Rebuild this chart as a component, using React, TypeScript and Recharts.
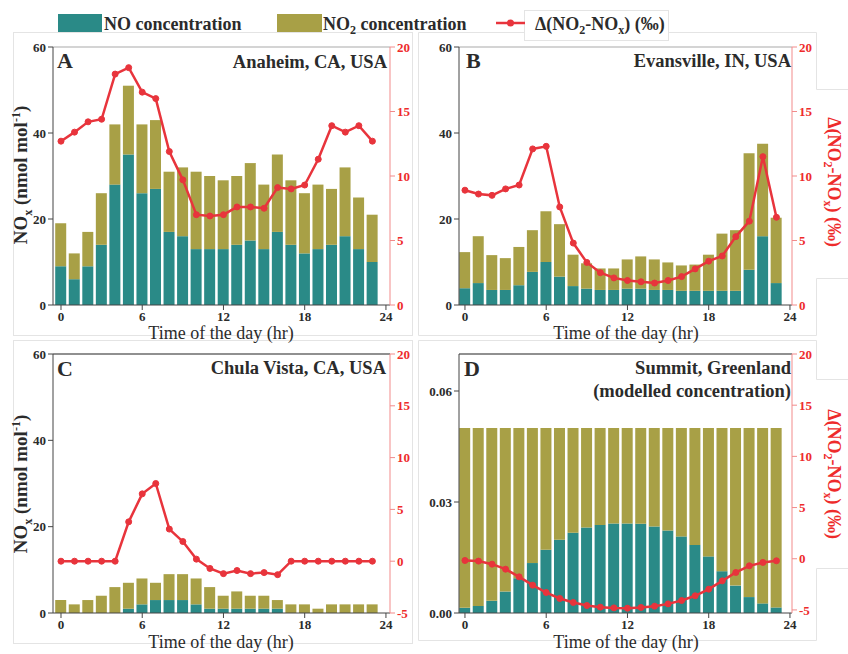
import React from 'react';
import { ComposedChart, Bar, Line, XAxis, YAxis, ReferenceLine } from 'recharts';

const SERIF = '"Liberation Serif", "Times New Roman", serif';
const TEAL = '#2a8a87';
const OLIVE = '#a8a046';
const RED = '#e8343c';
const RED_AXIS = '#f28b8b';
const INK = '#2b2b2b';
const FRAME = '#e4e4e4';

// hour of day for every bar / point
const hours = [0, 1, 2, 3, 4, 5, 6, 7, 8, 9, 10, 11, 12, 13, 14, 15, 16, 17, 18, 19, 20, 21, 22, 23];
const hourTicks = [0, 6, 12, 18, 24];

// A - Anaheim
const noA = [9, 6, 9, 14, 28, 35, 26, 27, 17, 16, 13, 13, 13, 14, 15, 13, 17, 14, 12, 13, 14, 16, 13, 10];
const no2A = [10, 6, 8, 12, 14, 16, 16, 16, 14, 16, 18, 17, 16, 16, 18, 15, 18, 15, 14, 15, 13, 16, 12, 11];
const deltaA = [12.7, 13.4, 14.2, 14.4, 17.9, 18.4, 16.5, 16.0, 11.9, 9.7, 7.0, 6.9, 7.0, 7.6, 7.6, 7.5, 9.1, 9.0, 9.3, 11.3, 13.9, 13.4, 13.9, 12.7];

// B - Evansville
const noB = [3.9, 5.1, 3.5, 3.5, 4.6, 7.7, 10.0, 6.6, 4.4, 3.8, 3.5, 3.5, 3.8, 3.8, 3.5, 3.5, 3.3, 3.3, 3.3, 3.3, 3.3, 8.2, 16.0, 5.1];
const no2B = [8.4, 10.9, 8.1, 7.4, 8.9, 9.7, 11.8, 12.2, 7.3, 5.9, 5.0, 5.0, 6.8, 7.5, 7.1, 6.4, 5.9, 6.1, 8.4, 13.3, 14.1, 27.1, 21.5, 15.2];
const deltaB = [8.9, 8.6, 8.5, 9.0, 9.3, 12.1, 12.3, 7.6, 4.8, 3.3, 2.5, 2.1, 1.9, 1.8, 1.7, 1.9, 2.2, 2.8, 3.4, 3.8, 5.3, 6.5, 11.5, 6.8];

// C - Chula Vista
const noC = [0, 0, 0, 0, 0, 1, 2, 3, 3, 3, 2, 1, 1, 1, 1, 1, 1, 0, 0, 0, 0, 0, 0, 0];
const no2C = [3, 2, 3, 4, 6, 6, 6, 4, 6, 6, 6, 5, 3, 4, 3, 3, 2, 2, 2, 1, 2, 2, 2, 2];
const deltaC = [0, 0, 0, 0, 0, 3.8, 6.5, 7.5, 3.1, 1.9, 0.2, -0.7, -1.2, -0.9, -1.2, -1.1, -1.3, 0, 0, 0, 0, 0, 0, 0];

// D - Summit (modelled)
const noD = [0.0014, 0.0019, 0.0033, 0.0058, 0.0094, 0.0135, 0.0171, 0.0198, 0.0217, 0.0231, 0.0238, 0.0242, 0.0242, 0.0241, 0.0234, 0.0223, 0.0207, 0.0184, 0.0153, 0.0113, 0.0074, 0.0043, 0.0026, 0.0015];
const no2D = [0.0486, 0.0481, 0.0467, 0.0442, 0.0406, 0.0365, 0.0329, 0.0302, 0.0283, 0.0269, 0.0262, 0.0258, 0.0258, 0.0259, 0.0266, 0.0277, 0.0293, 0.0316, 0.0347, 0.0387, 0.0426, 0.0457, 0.0474, 0.0485];
const deltaD = [-0.17, -0.23, -0.53, -1.02, -1.77, -2.58, -3.3, -3.88, -4.27, -4.57, -4.73, -4.8, -4.83, -4.76, -4.63, -4.41, -4.08, -3.62, -2.97, -2.16, -1.34, -0.69, -0.36, -0.2];

const ppbTicks = [0, 20, 40, 60];
const modelTicks = [0, 0.03, 0.06];
const deltaTicksPos = [0, 5, 10, 15, 20];
const deltaTicksAll = [-5, 0, 5, 10, 15, 20];

const LEFT_W = 36;
const RIGHT_W = 30;
const X_H = 30;

type Rect = { x: number; y: number; w: number; h: number };

type PanelProps = {
  box: Rect;
  plot: Rect;
  xDomain: [number, number];
  no: number[];
  no2: number[];
  delta: number[];
  leftDomain: [number, number];
  leftTicks: number[];
  leftFmt?: (v: number) => string;
  rightDomain: [number, number];
  rightTicks: number[];
  topStroke: string;
};

const tickStyle = { fontSize: 13, fontWeight: 'bold', fill: INK, fontFamily: SERIF };

function Panel(p: PanelProps) {
  const data = hours.map((h, i) => ({ hour: h, no: p.no[i], no2: p.no2[i], delta: p.delta[i] }));
  const margin = {
    left: p.plot.x - p.box.x - LEFT_W,
    right: p.box.x + p.box.w - (p.plot.x + p.plot.w) - RIGHT_W,
    top: p.plot.y - p.box.y,
    bottom: p.box.y + p.box.h - (p.plot.y + p.plot.h) - X_H,
  };
  return (
    <div style={{ position: 'absolute', left: p.box.x, top: p.box.y }}>
      <ComposedChart width={p.box.w} height={p.box.h} data={data} margin={margin}>
        <XAxis
          dataKey="hour"
          type="number"
          domain={p.xDomain}
          ticks={hourTicks}
          allowDataOverflow
          height={X_H}
          stroke="#444"
          tick={tickStyle}
          tickSize={5}
        />
        <YAxis
          yAxisId="left"
          width={LEFT_W}
          domain={p.leftDomain}
          ticks={p.leftTicks}
          allowDataOverflow
          stroke="#444"
          tick={tickStyle}
          tickSize={5}
          tickFormatter={p.leftFmt}
        />
        <YAxis
          yAxisId="right"
          orientation="right"
          width={RIGHT_W}
          domain={p.rightDomain}
          ticks={p.rightTicks}
          allowDataOverflow
          stroke={RED_AXIS}
          tick={{ ...tickStyle, fill: '#ee2b2b' }}
          tickSize={5}
        />
        <ReferenceLine yAxisId="left" y={p.leftDomain[1]} stroke={p.topStroke} strokeWidth={1.2} />
        <Bar yAxisId="left" dataKey="no" stackId="nox" fill={TEAL} barSize={11} isAnimationActive={false} />
        <Bar yAxisId="left" dataKey="no2" stackId="nox" fill={OLIVE} barSize={11} isAnimationActive={false} />
        <Line
          yAxisId="right"
          dataKey="delta"
          stroke={RED}
          strokeWidth={2.5}
          dot={{ r: 3, fill: RED, stroke: RED, strokeWidth: 1 }}
          isAnimationActive={false}
        />
      </ComposedChart>
    </div>
  );
}

const plotA: Rect = { x: 53, y: 47, w: 337, h: 258 };
const plotB: Rect = { x: 459, y: 47, w: 333, h: 258 };
const plotC: Rect = { x: 53, y: 354, w: 337, h: 259 };
const plotD: Rect = { x: 459, y: 354, w: 333, h: 259 };

const noxLabel = (cx: number, cy: number) => (
  <text transform={`translate(${cx},${cy}) rotate(-90)`} textAnchor="middle" fontSize={19} fontWeight="bold" fill={INK}>
    NO<tspan fontSize={12} dy={5}>x</tspan>
    <tspan dy={-5}> (nmol mol</tspan>
    <tspan fontSize={12} dy={-7}>-1</tspan>
    <tspan dy={7}>)</tspan>
  </text>
);

const deltaLabel = (cx: number, cy: number) => (
  <text transform={`translate(${cx},${cy}) rotate(90)`} textAnchor="middle" fontSize={18} fontWeight="bold" fill="#ee2b2b">
    Δ(NO<tspan fontSize={12} dy={4}>2</tspan>
    <tspan dy={-4}>-NO</tspan>
    <tspan fontSize={12} dy={4}>x</tspan>
    <tspan dy={-4}>) (‰)</tspan>
  </text>
);

const timeLabel = (cx: number, y: number) => (
  <text x={cx} y={y} textAnchor="middle" fontSize={18} fill={INK}>
    Time of the day (hr)
  </text>
);

export default function App() {
  return (
    <div style={{ position: 'absolute', left: 0, top: 0, width: 848, height: 654, background: '#fff', fontFamily: SERIF }}>
      <style>{`svg text { font-family: ${SERIF}; }`}</style>
      {/* faint panel frames */}
      <svg width={848} height={654} style={{ position: 'absolute', left: 0, top: 0 }}>
        <g fill="none" stroke={FRAME} strokeWidth={1}>
          <rect x={13.5} y={32.5} width={399} height={303} />
          <path d="M816.5 89.5 V32.5 H418.5 V335.5 H816.5 V278.5 H848 M816.5 89.5 H848" />
          <rect x={13.5} y={340.5} width={399} height={303} />
          <path d="M816.5 379.5 V340.5 H418.5 V640.5 H816.5 V568.5 H848 M816.5 379.5 H848" />
        </g>
        <rect x={524.5} y={10.5} width={144} height={30} fill="#fff" stroke={FRAME} />
      </svg>

      <Panel box={{ x: 0, y: 0, w: 420, h: 340 }} plot={plotA} xDomain={[-0.59, 24.3]}
        no={noA} no2={no2A} delta={deltaA} leftDomain={[0, 60]} leftTicks={ppbTicks}
        rightDomain={[0, 20]} rightTicks={deltaTicksPos} topStroke="#aaa" />
      <Panel box={{ x: 420, y: 0, w: 420, h: 340 }} plot={plotB} xDomain={[-0.44, 24.15]}
        no={noB} no2={no2B} delta={deltaB} leftDomain={[0, 60]} leftTicks={ppbTicks}
        rightDomain={[0, 20]} rightTicks={deltaTicksPos} topStroke="#aaa" />
      <Panel box={{ x: 0, y: 330, w: 420, h: 324 }} plot={plotC} xDomain={[-0.59, 24.3]}
        no={noC} no2={no2C} delta={deltaC} leftDomain={[0, 60]} leftTicks={ppbTicks}
        rightDomain={[-5, 20]} rightTicks={deltaTicksAll} topStroke="#222" />
      <Panel box={{ x: 420, y: 330, w: 420, h: 324 }} plot={plotD} xDomain={[-0.44, 24.15]}
        no={noD} no2={no2D} delta={deltaD} leftDomain={[0, 0.07]} leftTicks={modelTicks}
        leftFmt={(v: number) => v.toFixed(2)}
        rightDomain={[-5.3, 20]} rightTicks={deltaTicksAll} topStroke="#222" />

      {/* legend, panel titles and axis titles */}
      <svg width={848} height={654} style={{ position: 'absolute', left: 0, top: 0, pointerEvents: 'none' }}>
        <rect x={58} y={14} width={44} height={18} fill={TEAL} />
        <text x={104} y={30} fontSize={18} fontWeight="bold" fill={INK}>NO concentration</text>
        <rect x={277} y={14} width={45} height={18} fill={OLIVE} />
        <text x={323} y={30} fontSize={18} fontWeight="bold" fill={INK}>
          NO<tspan fontSize={12} dy={4}>2</tspan>
          <tspan dy={-4}> concentration</tspan>
        </text>
        <line x1={496} x2={525} y1={23} y2={23} stroke={RED} strokeWidth={2.5} />
        <circle cx={510.5} cy={23} r={3.5} fill={RED} />
        <text x={535} y={30} fontSize={18} fontWeight="bold" fill={INK}>
          Δ(NO<tspan fontSize={12} dy={4}>2</tspan>
          <tspan dy={-4}>-NO</tspan>
          <tspan fontSize={12} dy={4}>x</tspan>
          <tspan dy={-4}>) (‰)</tspan>
        </text>

        <g fontWeight="bold" fill={INK}>
          <text x={57} y={68} fontSize={22}>A</text>
          <text x={466} y={68} fontSize={22}>B</text>
          <text x={57} y={376} fontSize={22}>C</text>
          <text x={464} y={376} fontSize={22}>D</text>
          <g fontSize={18.5} textAnchor="end">
            <text x={387} y={68}>Anaheim, CA, USA</text>
            <text x={791} y={67}>Evansville, IN, USA</text>
            <text x={386} y={374}>Chula Vista, CA, USA</text>
            <text x={791} y={374}>Summit, Greenland</text>
            <text x={791} y={397}>(modelled concentration)</text>
          </g>
        </g>

        {noxLabel(27, 175)}
        {noxLabel(27, 484)}
        {deltaLabel(828, 182)}
        {deltaLabel(828, 474)}

        {timeLabel(221, 339)}
        {timeLabel(626, 339)}
        {timeLabel(221, 648)}
        {timeLabel(626, 648)}
      </svg>
    </div>
  );
}
